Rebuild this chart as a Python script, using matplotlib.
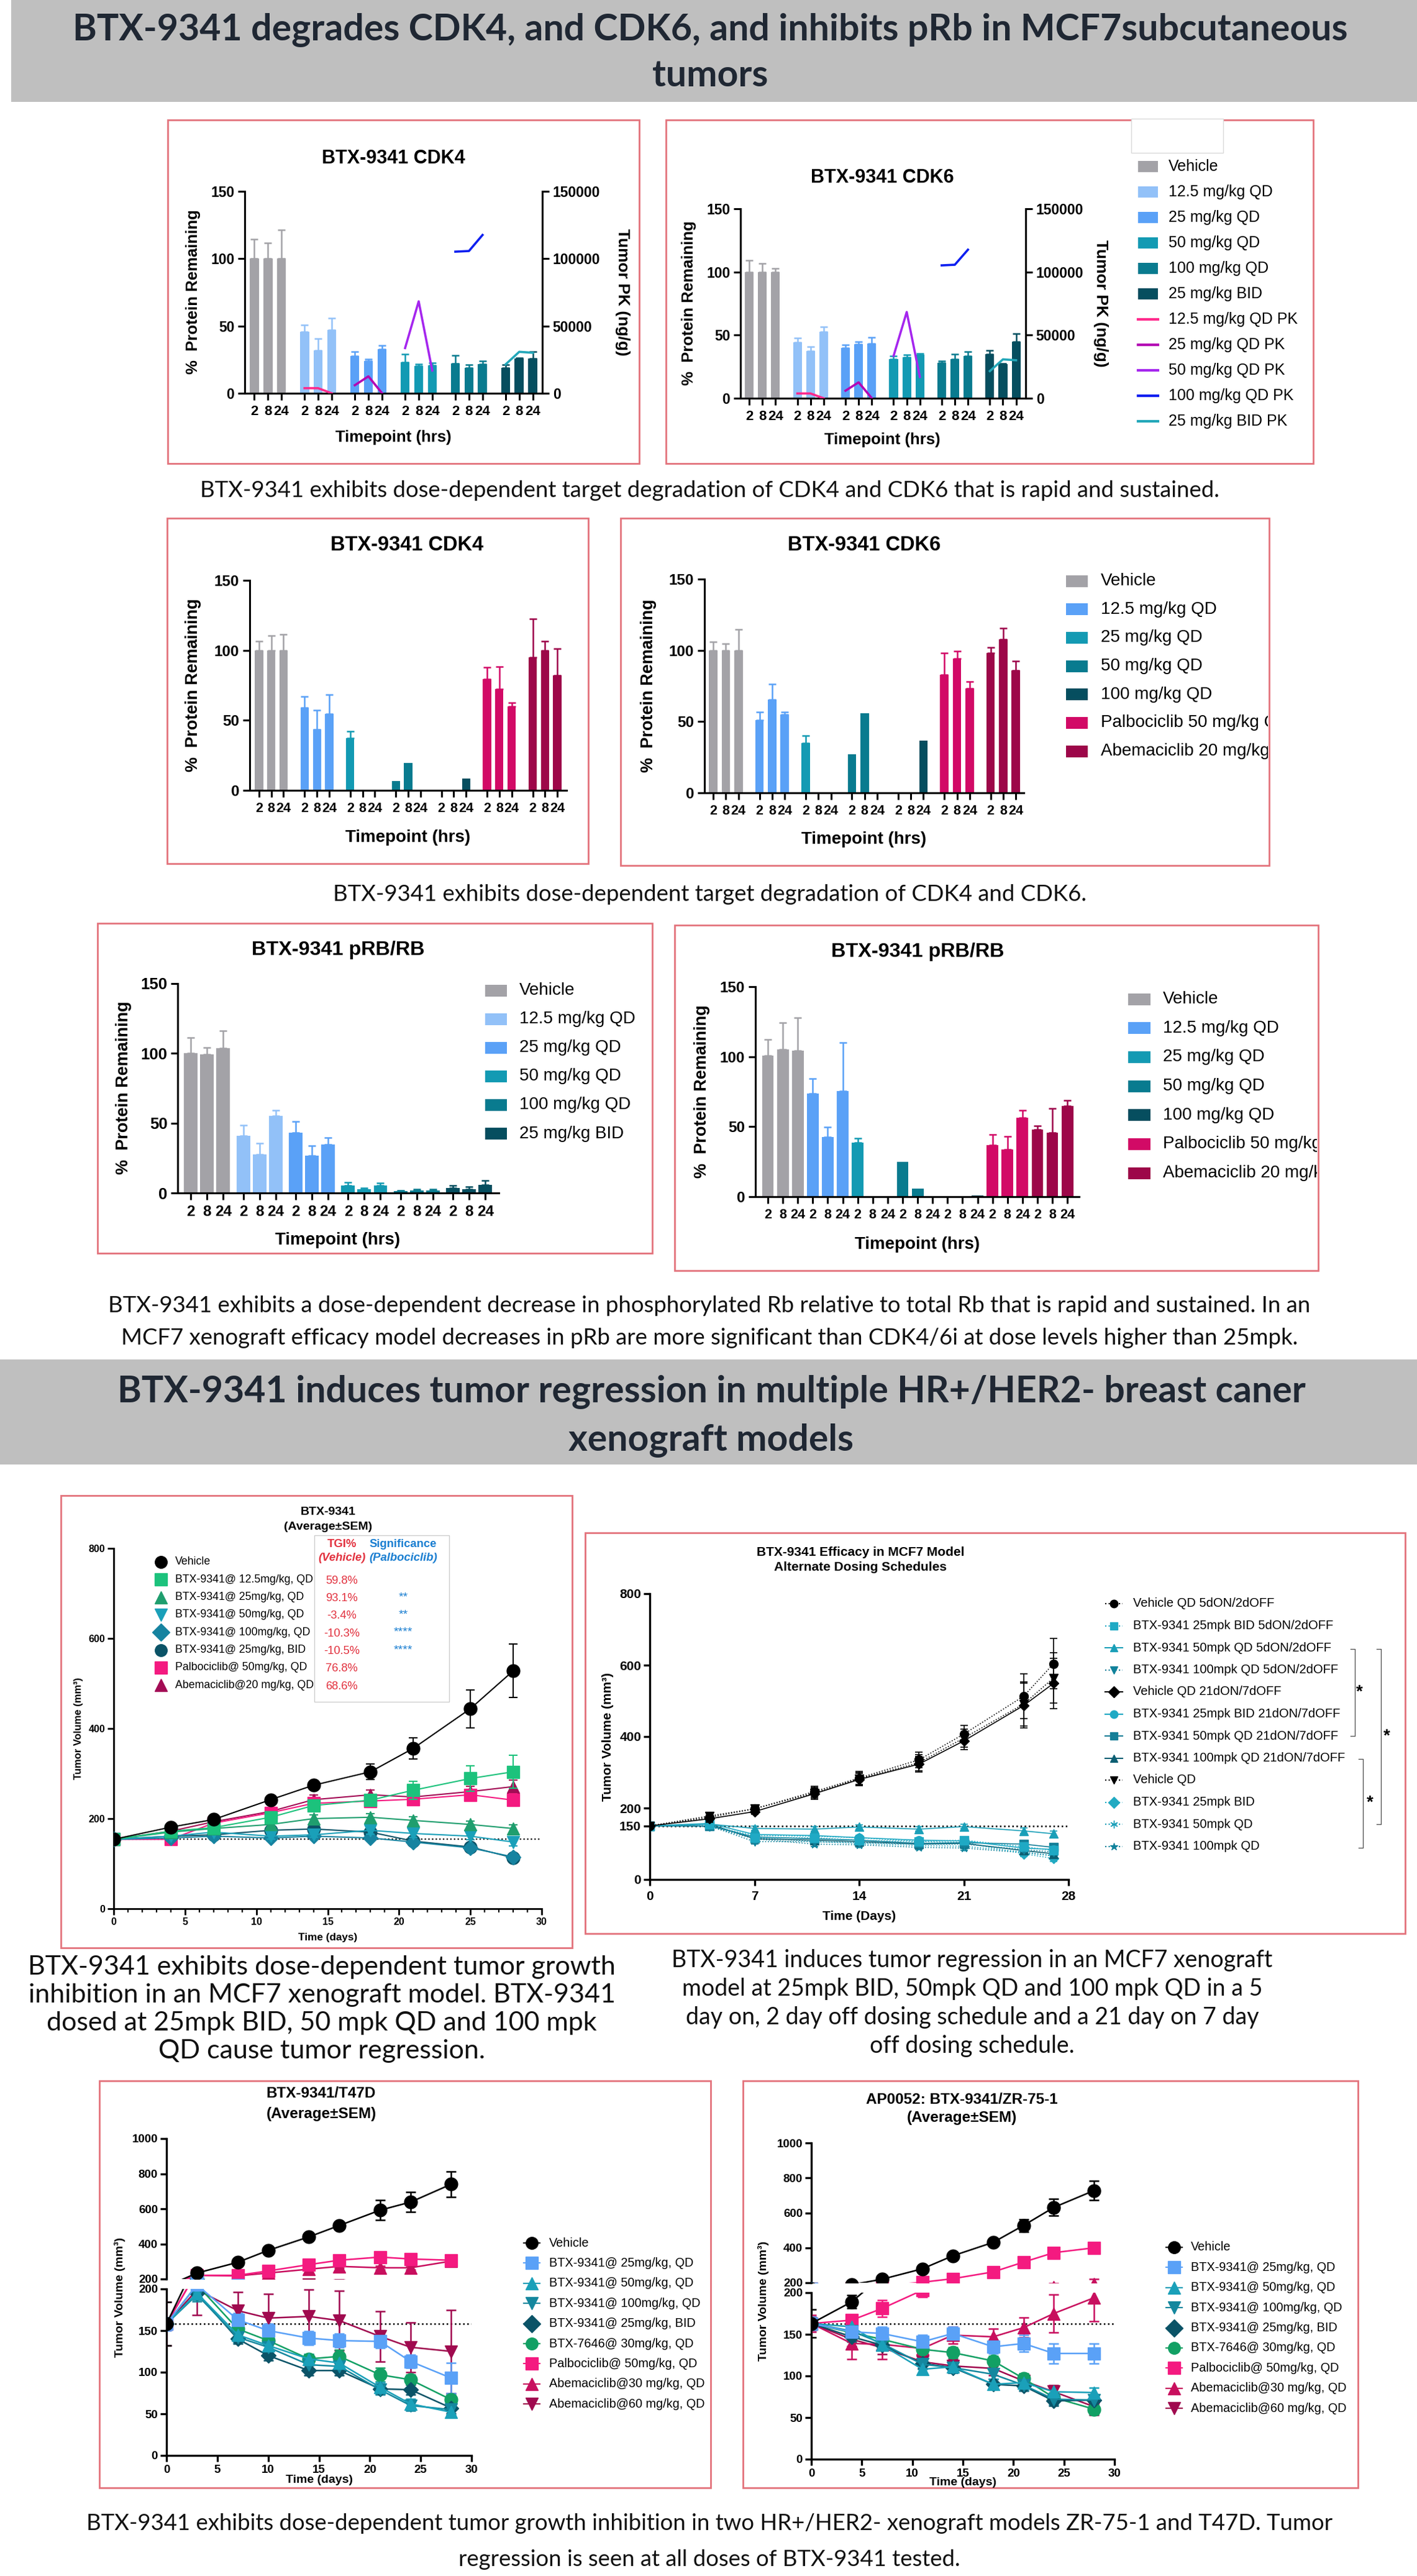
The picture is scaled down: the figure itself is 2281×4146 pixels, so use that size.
import numpy as np
import matplotlib
matplotlib.use('Agg')
import matplotlib.pyplot as plt
from matplotlib.patches import Rectangle
from matplotlib.lines import Line2D
from matplotlib.transforms import Bbox, TransformedBbox

W, H = 2281, 4146
plt.rcParams['font.family'] = ['Liberation Sans', 'DejaVu Sans']

# ---------------- data ----------------
TIMEPOINTS = ['2', '8', '24']

# row 1 : degradation + tumour PK
pk_doses = ['Vehicle', '12.5 mg/kg QD', '25 mg/kg QD', '50 mg/kg QD', '100 mg/kg QD', '25 mg/kg BID']
cdk4_a_mean = [[100, 100, 100], [45.5, 31.9, 46.9], [27.8, 23.9, 32.7],
               [23.1, 20.2, 20.9], [22.2, 18.9, 21.9], [18.9, 25.8, 25.8]]
cdk4_a_err = [[14.6, 11.6, 21.4], [5.4, 8.5, 9.1], [3.0, 1.4, 3.0],
              [5.9, 1.5, 1.7], [6.1, 2.2, 2.0], [2.2, 0.5, 5.0]]
cdk6_a_mean = [[100, 100, 100], [44.1, 37.6, 52.5], [39.9, 42.6, 43.5],
               [30.9, 32.4, 34.2], [27.9, 30.9, 33.6], [34.9, 27.0, 45.0]]
cdk6_a_err = [[9.2, 6.5, 2.9], [3.4, 3.2, 4.0], [2.4, 2.4, 4.5],
              [2.7, 2.1, 1.2], [1.8, 4.2, 3.3], [3.2, 0.5, 6.3]]
pk_labels = ['12.5 mg/kg QD PK', '25 mg/kg QD PK', '50 mg/kg QD PK', '100 mg/kg QD PK', '25 mg/kg BID PK']
pk_125 = [3800, 3800, 0]
pk_25 = [6000, 12600, 100]
pk_50 = [33600, 68300, 16900]
pk_100 = [105200, 105700, 117600]
pk_bid = [21500, 30800, 30100]

# row 2 : degradation vs CDK4/6i
cmp_doses = ['Vehicle', '12.5 mg/kg QD', '25 mg/kg QD', '50 mg/kg QD', '100 mg/kg QD',
             'Palbociclib 50 mg/kg QD', 'Abemaciclib 20 mg/kg QD']
cdk4_b_mean = [[100, 100, 100], [59.2, 43.6, 54.6], [37.2, 0, 0], [6.6, 19.4, 0],
               [0, 0, 8.6], [79.4, 72.2, 60.1], [95.0, 99.9, 82.1]]
cdk4_b_err = [[6.7, 10.7, 11.2], [7.9, 13.5, 13.8], [4.8, 0, 0], [0, 0, 0],
              [0, 0, 0], [8.4, 15.9, 2.6], [27.5, 6.8, 19.1]]
cdk6_b_mean = [[100, 100, 100], [50.9, 65.2, 54.9], [34.7, 0, 0], [27.0, 55.7, 0],
               [0, 0, 36.7], [82.7, 94.3, 73.2], [98.0, 107.8, 85.9]]
cdk6_b_err = [[5.8, 4.7, 14.5], [6.0, 11.1, 2.0], [5.5, 0, 0], [0, 0, 0],
              [0, 0, 0], [15.6, 5.3, 4.7], [4.1, 7.7, 6.5]]

# row 3 : pRB/RB
prb_a_mean = [[100.2, 99.2, 103.6], [40.8, 27.8, 55.2], [43.1, 26.6, 34.8],
              [5.2, 2.5, 5.2], [1.25, 2.0, 2.0], [3.6, 2.8, 5.9]]
prb_a_err = [[11.2, 4.9, 12.5], [7.6, 7.8, 3.9], [8.1, 7.2, 5.0],
             [2.3, 1.1, 2.0], [0.75, 0.8, 0.8], [1.9, 1.6, 3.2]]
prb_b_mean = [[100.8, 105.2, 104.4], [73.5, 42.4, 75.5], [38.8, 0, 0], [24.9, 5.7, 0],
              [0, 0, 1.0], [36.7, 33.9, 56.3], [48.1, 45.7, 64.6]]
prb_b_err = [[11.4, 19.2, 23.6], [10.6, 7.5, 34.7], [2.9, 0, 0], [0, 0, 0],
             [0, 0, 0], [7.8, 9.0, 5.3], [2.5, 17.1, 4.4]]

# row 4 left : MCF7 efficacy
mcf7_days = [0, 4, 7, 11, 14, 18, 21, 25, 28]
mcf7_names = ['Vehicle', 'BTX-9341@ 12.5mg/kg, QD', 'BTX-9341@ 25mg/kg, QD', 'BTX-9341@ 50mg/kg, QD',
              'BTX-9341@ 100mg/kg, QD', 'BTX-9341@ 25mg/kg, BID', 'Palbociclib@ 50mg/kg, QD',
              'Abemaciclib@20 mg/kg, QD']
mcf7_vals = [[154, 181, 198, 242, 274, 304, 356, 444, 528],
             [154, 172, 180, 203, 229, 241, 263, 289, 304],
             [154, 170, 178, 187, 200, 203, 196, 187, 178],
             [154, 161, 170, 161, 164, 174, 167, 161, 148],
             [154, 157, 161, 157, 161, 157, 148, 135, 115],
             [154, 161, 164, 174, 177, 170, 150, 137, 113],
             [154, 154, 190, 213, 234, 239, 243, 253, 241],
             [154, 172, 193, 216, 242, 253, 248, 260, 271]]
mcf7_errs = [[4, 8, 6, 7, 8, 17, 24, 42, 59],
             [4, 6, 6, 8, 10, 12, 20, 28, 37],
             [4, 5, 6, 6, 8, 8, 8, 8, 8],
             [4, 5, 6, 6, 6, 8, 8, 8, 8],
             [4, 4, 4, 5, 5, 6, 6, 6, 6],
             [4, 4, 4, 5, 5, 6, 6, 6, 6],
             [4, 5, 8, 8, 10, 10, 12, 12, 14],
             [4, 5, 8, 8, 10, 10, 12, 12, 14]]
tgi_text = ['59.8%', '93.1%', '-3.4%', '-10.3%', '-10.5%', '76.8%', '68.6%']
sig_text = ['', '**', '**', '****', '****', '', '']

# row 4 right : alternate schedules
alt_days = [0, 4, 7, 11, 14, 18, 21, 25, 27]
alt_names = ['Vehicle QD 5dON/2dOFF', 'BTX-9341 25mpk BID 5dON/2dOFF', 'BTX-9341 50mpk QD 5dON/2dOFF',
             'BTX-9341 100mpk QD 5dON/2dOFF', 'Vehicle QD 21dON/7dOFF', 'BTX-9341 25mpk BID 21dON/7dOFF',
             'BTX-9341 50mpk QD 21dON/7dOFF', 'BTX-9341 100mpk QD 21dON/7dOFF', 'Vehicle QD',
             'BTX-9341 25mpk BID', 'BTX-9341 50mpk QD', 'BTX-9341 100mpk QD']
alt_vals = [[150, 174, 198, 246, 284, 335, 407, 513, 604],
            [150, 154, 117, 117, 110, 106, 110, 92, 81],
            [150, 155, 143, 141, 147, 141, 148, 136, 128],
            [150, 150, 106, 106, 103, 99, 99, 84, 77],
            [150, 170, 190, 240, 280, 323, 388, 487, 549],
            [150, 157, 126, 123, 117, 110, 108, 88, 84],
            [150, 150, 119, 114, 110, 101, 103, 99, 90],
            [150, 155, 114, 110, 106, 99, 101, 81, 72],
            [150, 178, 198, 242, 282, 327, 396, 491, 564],
            [150, 150, 123, 121, 117, 106, 104, 72, 59],
            [150, 150, 117, 106, 101, 95, 93, 77, 67],
            [150, 148, 114, 99, 97, 90, 88, 75, 66]]
alt_veh_err = [5, 10, 8, 15, 18, 22, 25, 62, 70]
alt_trt_err = [5, 6, 6, 6, 6, 6, 6, 8, 8]

# row 5 : T47D and ZR-75-1
xeno_names = ['Vehicle', 'BTX-9341@ 25mg/kg, QD', 'BTX-9341@ 50mg/kg, QD', 'BTX-9341@ 100mg/kg, QD',
              'BTX-9341@ 25mg/kg, BID', 'BTX-7646@ 30mg/kg, QD', 'Palbociclib@ 50mg/kg, QD',
              'Abemaciclib@30 mg/kg, QD', 'Abemaciclib@60 mg/kg, QD']
t47d_days = [0, 3, 7, 10, 14, 17, 21, 24, 28]
t47d_vals = [[158, 234, 295, 363, 440, 505, 592, 638, 740],
             [158, 205, 163, 150, 141, 138, 137, 113, 93],
             [158, 195, 145, 132, 116, 111, 82, 62, 52],
             [158, 193, 142, 130, 109, 107, 79, 60, 55],
             [158, 195, 140, 120, 102, 102, 80, 79, 57],
             [158, 205, 152, 138, 116, 119, 97, 91, 67],
             [158, 221, 221, 246, 282, 307, 325, 314, 307],
             [158, 221, 218, 234, 256, 272, 264, 264, 302],
             [158, 199, 174, 165, 167, 162, 143, 130, 125]]
t47d_errs = [[26, 20, 12, 12, 12, 12, 56, 57, 71],
             [8, 6, 8, 8, 8, 8, 8, 8, 18],
             [6, 8, 6, 6, 6, 6, 6, 6, 6],
             [6, 8, 6, 6, 6, 6, 6, 6, 6],
             [6, 8, 6, 6, 6, 6, 6, 6, 6],
             [6, 8, 6, 6, 6, 8, 8, 6, 6],
             [6, 8, 8, 8, 8, 8, 10, 10, 10],
             [6, 8, 8, 8, 8, 8, 10, 10, 10],
             [26, 30, 22, 29, 32, 36, 30, 30, 50]]
zr_days = [0, 4, 7, 11, 14, 18, 21, 24, 28]
zr_vals = [[163, 189, 220, 280, 354, 431, 528, 631, 728],
           [163, 153, 151, 141, 151, 135, 139, 127, 127],
           [163, 159, 137, 108, 111, 90, 92, 81, 80],
           [163, 154, 139, 114, 110, 102, 89, 72, 71],
           [163, 147, 137, 115, 110, 90, 88, 70, 71],
           [163, 152, 144, 132, 128, 118, 97, 74, 60],
           [163, 167, 181, 203, 223, 262, 318, 372, 400],
           [163, 139, 138, 133, 149, 147, 158, 175, 194],
           [163, 144, 134, 117, 112, 109, 94, 81, 63]]
zr_errs = [[17, 8, 10, 10, 10, 12, 36, 48, 56],
           [8, 8, 8, 8, 8, 8, 10, 12, 12],
           [6, 6, 6, 6, 6, 6, 6, 6, 6],
           [6, 6, 6, 6, 6, 6, 6, 6, 6],
           [6, 6, 6, 6, 6, 6, 6, 6, 6],
           [6, 6, 6, 6, 6, 6, 6, 6, 6],
           [5, 5, 10, 8, 8, 8, 10, 10, 10],
           [10, 19, 18, 10, 10, 10, 12, 23, 28],
           [8, 8, 8, 8, 8, 8, 8, 8, 10]]

# ---------------- colours ----------------
GRAY, LBLUE, BLUE = '#a3a2a7', '#92c1f8', '#5aa1f7'
TEAL, TEAL2, DARK = '#139ab3', '#097b8f', '#064e5f'
PALBO, ABEMA = '#d20a66', '#9d0749'
PK_COLORS = ['#ff2a8c', '#b400b4', '#a526ee', '#0d1ff0', '#22a7b9']
BORDER = '#e3737c'
BANNER = '#bfbfbf'
BANNER_TXT = '#1f2733'

fig = plt.figure(figsize=(W / 100, H / 100), dpi=100)
fig.patch.set_facecolor('white')


def px_axes(x0, y0, x1, y1):
    ax = fig.add_axes([x0 / W, 1 - y1 / H, (x1 - x0) / W, (y1 - y0) / H])
    ax.set_facecolor('none')
    return ax


def ftext(x, y, s, **kw):
    kw.setdefault('ha', 'center')
    kw.setdefault('va', 'center')
    return fig.text(x / W, 1 - y / H, s, **kw)


def rect(x0, y0, x1, y1, **kw):
    r = Rectangle((x0 / W, 1 - y1 / H), (x1 - x0) / W, (y1 - y0) / H, transform=fig.transFigure, **kw)
    fig.add_artist(r)
    return r


def frame(x0, y0, x1, y1):
    rect(x0, y0, x1, y1, fill=False, edgecolor=BORDER, lw=2.0)


def clip_box(x0, y0, x1, y1):
    return TransformedBbox(Bbox([[x0 / W, 1 - y1 / H], [x1 / W, 1 - y0 / H]]), fig.transFigure)


def fline(xs, ys, **kw):
    fig.add_artist(Line2D([x / W for x in xs], [1 - y / H for y in ys],
                          transform=fig.transFigure, **kw))


def style(ax, xfs, yfs, lw=2.2, tl=8, xpad=6, ypad=4):
    ax.spines[['top', 'right']].set_visible(False)
    ax.spines[['left', 'bottom']].set_linewidth(lw)
    ax.tick_params(width=lw, length=tl, direction='out')
    ax.tick_params(axis='x', labelsize=xfs, pad=xpad)
    ax.tick_params(axis='y', labelsize=yfs, pad=ypad)
    for lab in ax.get_xticklabels() + ax.get_yticklabels():
        lab.set_fontweight('bold')


def bar_chart(box, means, errs, colors, stride, width, lpad, rpad, xfs, yfs):
    ax = px_axes(*box)
    ticks = []
    for g, (m, e, c) in enumerate(zip(means, errs, colors)):
        pos = g * stride + np.arange(3)
        m = np.asarray(m, float)
        e = np.asarray(e, float)
        ax.bar(pos, m, width, color=c, zorder=2)
        k = e > 0
        if k.any():
            ax.errorbar(pos[k], m[k], yerr=[np.zeros(k.sum()), e[k]], fmt='none', ecolor=c,
                        elinewidth=1.8, capsize=4, capthick=1.8, zorder=1)
        ticks.extend(pos)
    ax.set_xticks(ticks)
    ax.set_xticklabels(TIMEPOINTS * len(means))
    ax.set_xlim(-lpad, ticks[-1] + rpad)
    ax.set_ylim(0, 150)
    ax.set_yticks([0, 50, 100, 150])
    style(ax, xfs, yfs)
    return ax


def add_pk(ax, stride, yfs):
    ax2 = ax.twinx()
    ax2.set_facecolor('none')
    for k, (vals, c) in enumerate(zip([pk_125, pk_25, pk_50, pk_100, pk_bid], PK_COLORS)):
        pos = (k + 1) * stride + np.arange(3)
        ax2.plot(pos, vals, color=c, lw=2.6, zorder=4)
    ax2.set_ylim(0, 150000)
    ax2.set_yticks([0, 50000, 100000, 150000])
    ax2.spines[['top', 'left', 'bottom']].set_visible(False)
    ax2.spines['right'].set_linewidth(2.2)
    ax2.tick_params(axis='y', width=2.2, length=8, labelsize=yfs, pad=4)
    for lab in ax2.get_yticklabels():
        lab.set_fontweight('bold')


def patch_legend(xc, xt, y0, dy, colors, labels, fs, pw, ph, clip=None):
    for k, (c, lab) in enumerate(zip(colors, labels)):
        y = y0 + k * dy
        rect(xc - pw / 2, y - ph / 2, xc + pw / 2, y + ph / 2, color=c, lw=0)
        t = ftext(xt, y, lab, ha='left', fontsize=fs)
        if clip is not None:
            t.set_clip_box(clip)
            t.set_clip_on(True)


def marker_legend(xc, xt, y0, dy, colors, markers, styles, labels, fs, ms, half):
    for k, (c, mk, ls, lab) in enumerate(zip(colors, markers, styles, labels)):
        y = y0 + k * dy
        fline([xc - half, xc, xc + half], [y, y, y], color=c, lw=1.5 if ls != 'none' else 0,
              ls=ls if ls != 'none' else '-', marker=mk, ms=ms, markevery=[1], mec=c, mfc=c)
        ftext(xt, y, lab, ha='left', fontsize=fs)


def curve(ax, x, y, e, color, marker, ms, ls='-', lw=1.6, cap=4, z=3):
    ax.errorbar(x, y, yerr=e, color=color, ecolor=color, marker=marker, ms=ms, ls=ls, lw=lw,
                elinewidth=lw, capsize=cap, capthick=lw, mec=color, mfc=color, zorder=z)


# ---------------- banners and captions ----------------
ban_kw = dict(fontsize=42.5, fontweight='bold', family=['Lato', 'DejaVu Sans'], color=BANNER_TXT)
rect(18, 0, 2281, 164, color=BANNER, lw=0)
ftext(1143, 48, 'BTX-9341 degrades CDK4, and CDK6, and inhibits pRb in MCF7subcutaneous', **ban_kw)
ftext(1143, 122, 'tumors', **ban_kw)
rect(0, 2188, 2281, 2357, color=BANNER, lw=0)
ftext(1145, 2241, 'BTX-9341 induces tumor regression in multiple HR+/HER2- breast caner', **ban_kw)
ftext(1145, 2318, 'xenograft models', **ban_kw)

cap_kw = dict(fontsize=26.3, family=['Lato', 'DejaVu Sans'], color='#111111')
ftext(1142, 790, 'BTX-9341 exhibits dose-dependent target degradation of CDK4 and CDK6 that is rapid and sustained.', **cap_kw)
ftext(1142, 1440, 'BTX-9341 exhibits dose-dependent target degradation of CDK4 and CDK6.', **cap_kw)
ftext(1142, 2101, 'BTX-9341 exhibits a dose-dependent decrease in phosphorylated Rb relative to total Rb that is rapid and sustained. In an', **cap_kw)
ftext(1142, 2154, 'MCF7 xenograft efficacy model decreases in pRb are more significant than CDK4/6i at dose levels higher than 25mpk.', **cap_kw)
for k, s in enumerate(['BTX-9341 exhibits dose-dependent tumor growth',
                       'inhibition in an MCF7 xenograft model. BTX-9341',
                       'dosed at 25mpk BID, 50 mpk QD and 100 mpk',
                       'QD cause tumor regression.']):
    ftext(518, 3166 + 45 * k, s, fontsize=31, family=['Lato', 'DejaVu Sans'], color='#111111')
for k, s in enumerate(['BTX-9341 induces tumor regression in an MCF7 xenograft',
                       'model at 25mpk BID, 50mpk QD and 100 mpk QD in a 5',
                       'day on, 2 day off dosing schedule and a 21 day on 7 day',
                       'off dosing schedule.']):
    ftext(1565, 3155 + 46 * k, s, fontsize=27, family=['Lato', 'DejaVu Sans'], color='#111111')
ftext(1142, 4062, 'BTX-9341 exhibits dose-dependent tumor growth inhibition in two HR+/HER2- xenograft models ZR-75-1 and T47D. Tumor', **cap_kw)
ftext(1142, 4119, 'regression is seen at all doses of BTX-9341 tested.', **cap_kw)

# ---------------- row 1 ----------------
row1_colors = [GRAY, LBLUE, BLUE, TEAL, TEAL2, DARK]
frame(270, 193, 1029, 746)
ax = bar_chart((394, 308, 873, 633), cdk4_a_mean, cdk4_a_err, row1_colors, 3.7, 0.67, 0.7, 0.7, 16, 16.5)
add_pk(ax, 3.7, 16.5)
ftext(633, 255, 'BTX-9341 CDK4', fontsize=22, fontweight='bold')
ftext(633, 704, 'Timepoint (hrs)', fontsize=18.5, fontweight='bold')
ftext(311, 470, '%  Protein Remaining', fontsize=18.5, fontweight='bold', rotation=90)
ftext(1002, 470, 'Tumor PK (ng/g)', fontsize=19, fontweight='bold', rotation=270)

frame(1072, 193, 2114, 746)
rect(1821, 191, 1969, 246, facecolor='white', edgecolor='#d9d9d9', lw=1.0)
ax = bar_chart((1192, 336, 1651, 641), cdk6_a_mean, cdk6_a_err, row1_colors, 3.67, 0.67, 0.67, 0.73, 16, 16.5)
add_pk(ax, 3.67, 16.5)
ftext(1420, 286, 'BTX-9341 CDK6', fontsize=22, fontweight='bold')
ftext(1420, 708, 'Timepoint (hrs)', fontsize=18.5, fontweight='bold')
ftext(1109, 488, '%  Protein Remaining', fontsize=18.5, fontweight='bold', rotation=90)
ftext(1772, 488, 'Tumor PK (ng/g)', fontsize=19, fontweight='bold', rotation=270)
patch_legend(1848, 1881, 268, 41, row1_colors, pk_doses, 18, 32, 17)
for k, (c, lab) in enumerate(zip(PK_COLORS, pk_labels)):
    y = 268 + (6 + k) * 41
    fline([1832, 1864], [y, y], color=c, lw=3)
    ftext(1881, y, lab, ha='left', fontsize=18)

# ---------------- row 2 ----------------
row2_colors = [GRAY, BLUE, TEAL, TEAL2, DARK, PALBO, ABEMA]
frame(269, 834, 947, 1390)
bar_chart((402, 934, 912, 1272), cdk4_b_mean, cdk4_b_err, row2_colors, 3.72, 0.67, 0.76, 0.76, 15.5, 17.5)
ftext(655, 878, 'BTX-9341 CDK4', fontsize=23.5, fontweight='bold')
ftext(657, 1348, 'Timepoint (hrs)', fontsize=20, fontweight='bold')
ftext(311, 1103, '%  Protein Remaining', fontsize=19.5, fontweight='bold', rotation=90)

frame(999, 834, 2043, 1393)
bar_chart((1134, 932, 1648, 1276), cdk6_b_mean, cdk6_b_err, row2_colors, 3.67, 0.67, 0.7, 0.63, 15.5, 17.5)
ftext(1391, 878, 'BTX-9341 CDK6', fontsize=23.5, fontweight='bold')
ftext(1391, 1351, 'Timepoint (hrs)', fontsize=20, fontweight='bold')
ftext(1044, 1104, '%  Protein Remaining', fontsize=19.5, fontweight='bold', rotation=90)
patch_legend(1733, 1772, 935, 45.7, row2_colors, cmp_doses, 20, 35, 19, clip=clip_box(999, 834, 2041, 1393))

# ---------------- row 3 ----------------
frame(157, 1486, 1050, 2017)
bar_chart((286, 1583, 803, 1920), prb_a_mean, prb_a_err, row1_colors, 3.24, 0.84, 0.82, 0.84, 17.5, 18.5)
ftext(544, 1529, 'BTX-9341 pRB/RB', fontsize=23.3, fontweight='bold')
ftext(544, 1996, 'Timepoint (hrs)', fontsize=20, fontweight='bold')
ftext(199, 1751, '%  Protein Remaining', fontsize=19.5, fontweight='bold', rotation=90)
patch_legend(798, 836, 1594, 46.1, row1_colors, pk_doses, 20, 35, 19)

frame(1086, 1489, 2122, 2045)
bar_chart((1216, 1588, 1737, 1926), prb_b_mean, prb_b_err, row2_colors, 3.0, 0.78, 0.83, 0.78, 15.5, 17.5)
ftext(1477, 1532, 'BTX-9341 pRB/RB', fontsize=23.3, fontweight='bold')
ftext(1477, 2003, 'Timepoint (hrs)', fontsize=20, fontweight='bold')
ftext(1130, 1757, '%  Protein Remaining', fontsize=19.5, fontweight='bold', rotation=90)
patch_legend(1834, 1872, 1608, 46.7, row2_colors, cmp_doses, 20, 36, 19, clip=clip_box(1086, 1489, 2120, 2045))

# ---------------- row 4 left ----------------
mcf7_colors = ['#000000', '#1cc27c', '#1f9e6e', '#1aa0b9', '#1683a0', '#0b5367', '#f41a80', '#a30c55']
mcf7_markers = ['o', 's', '^', 'v', 'D', 'o', 's', '^']
frame(98, 2407, 921, 3135)
ax = px_axes(183, 2492, 872, 3072)
ax.axhline(154, color='k', ls=':', lw=1.6, zorder=1)
for k in range(len(mcf7_vals) - 1, -1, -1):
    ms = 12 if mcf7_markers[k] == 'D' else 15
    curve(ax, mcf7_days, mcf7_vals[k], mcf7_errs[k], mcf7_colors[k], mcf7_markers[k], ms,
          lw=1.5, cap=5, z=10 - k if k else 12)
ax.set_xlim(0, 30)
ax.set_ylim(0, 800)
ax.set_xticks(range(0, 31, 5))
ax.set_xticks(range(0, 31), minor=True)
ax.set_yticks([0, 200, 400, 600, 800])
style(ax, 11.5, 11.5, lw=2.0, tl=7, xpad=3, ypad=3)
ax.tick_params(axis='x', which='minor', length=4, width=1.6)
ftext(528, 2434, 'BTX-9341', fontsize=14, fontweight='bold')
ftext(528, 2458, '(Average±SEM)', fontsize=14, fontweight='bold')
ftext(528, 3118, 'Time (days)', fontsize=12.3, fontweight='bold')
ftext(127, 2782, 'Tumor Volume (mm³)', fontsize=12, fontweight='bold', rotation=90)
marker_legend(259, 282, 2514, 28.3, mcf7_colors, mcf7_markers, ['none'] * 8, mcf7_names, 12.8, 14, 10)
rect(506, 2471, 723, 2739, fill=False, edgecolor='#cccccc', lw=1.0)
ftext(550, 2486, 'TGI%', fontsize=13.3, fontweight='bold', color='#e2323f')
ftext(550, 2508, '(Vehicle)', fontsize=13.3, fontweight='bold', style='italic', color='#e2323f')
ftext(649, 2486, 'Significance', fontsize=13.3, fontweight='bold', color='#1b7fd1')
ftext(649, 2508, '(Palbociclib)', fontsize=13.3, fontweight='bold', style='italic', color='#1b7fd1')
for k, (t, s) in enumerate(zip(tgi_text, sig_text)):
    y = 2514 + 28.3 * (k + 1)
    ftext(550, y + 2, t, fontsize=13.2, color='#e2323f')
    if s:
        ftext(649, y, s, fontsize=14, color='#1b7fd1')

# ---------------- row 4 right ----------------
alt_colors = ['#000000', '#1fa9c4', '#1a9fb8', '#11829b', '#000000', '#1fa9c4', '#157f98', '#0d5f73',
              '#000000', '#22aac2', '#1a9fb8', '#11829b']
alt_markers = ['o', 's', '^', 'v', 'D', 'o', 's', '^', 'v', 'D', (6, 2, 0), '*']
alt_styles = [':', ':', '-', ':', '-', '-', '-', '-', ':', ':', ':', ':']
frame(942, 2467, 2262, 3112)
ax = px_axes(1046, 2565, 1720, 3025)
ax.axhline(150, color='k', ls=':', lw=1.8, zorder=1)
for k in range(len(alt_vals) - 1, -1, -1):
    err = alt_veh_err if alt_colors[k] == '#000000' else alt_trt_err
    ms = 8 if alt_markers[k] == 'D' else 10
    curve(ax, alt_days, alt_vals[k], err, alt_colors[k], alt_markers[k], ms, ls=alt_styles[k],
          lw=1.2, cap=4, z=3 + (alt_colors[k] == '#000000'))
ax.set_xlim(0, 28)
ax.set_ylim(0, 800)
ax.set_xticks([0, 7, 14, 21, 28])
ax.set_yticks([0, 150, 200, 400, 600, 800])
style(ax, 15, 15, lw=2.4, tl=7, xpad=6, ypad=3)
ftext(1385, 2498, 'BTX-9341 Efficacy in MCF7 Model', fontsize=15, fontweight='bold')
ftext(1385, 2523, 'Alternate Dosing Schedules', fontsize=15, fontweight='bold')
ftext(1383, 3084, 'Time (Days)', fontsize=15, fontweight='bold')
ftext(978, 2795, 'Tumor Volume (mm³)', fontsize=15, fontweight='bold', rotation=90)
marker_legend(1793, 1824, 2581, 35.5, alt_colors, alt_markers, alt_styles, alt_names, 14.5, 9, 14)
for (xb, ya, yb, xs, ys) in [(2181, 2654, 2794, 2188, 2718), (2223, 2654, 2936, 2232, 2789),
                             (2194, 2831, 2974, 2205, 2896)]:
    fline([xb - 7, xb, xb, xb - 7], [ya, ya, yb, yb], color='#555555', lw=1.0)
    ftext(xs, ys + 6, '*', fontsize=20, fontweight='bold')

# ---------------- row 5 ----------------
xeno_colors = ['#000000', '#5aa1f7', '#1aa0b9', '#14879e', '#0b5367', '#12a064', '#f41a80', '#c80f5e', '#a00a4f']
xeno_markers = ['o', 's', '^', 'v', 'D', 'o', 's', '^', 'v']


def broken_panel(x0, x1, ytop, ymid1, ymid2, ybot, days, vals, errs, base):
    up = px_axes(x0, ytop, x1, ymid1)
    lo = px_axes(x0, ymid2, x1, ybot)
    lo.axhline(base, color='k', ls=':', lw=1.8, zorder=1)
    for a in (up, lo):
        for k in range(len(vals) - 1, -1, -1):
            ms = 12 if xeno_markers[k] == 'D' else 15
            curve(a, days, vals[k], errs[k], xeno_colors[k], xeno_markers[k], ms, lw=1.8, cap=6,
                  z=12 if k == 0 else 3)
        a.set_xlim(0, 30)
    up.set_ylim(200, 1000)
    up.set_yticks([200, 400, 600, 800, 1000])
    up.set_xticks([])
    lo.set_ylim(0, 200)
    lo.set_yticks([0, 50, 100, 150, 200])
    lo.set_xticks(range(0, 31, 5))
    style(lo, 13.5, 13.5, lw=2.4, tl=7, xpad=4, ypad=3)
    style(up, 13.5, 13.5, lw=2.4, tl=7, xpad=4, ypad=3)
    up.spines['bottom'].set_visible(False)


frame(160, 3349, 1144, 4004)
broken_panel(268, 759, 3442, 3668, 3684, 3952, t47d_days, t47d_vals, t47d_errs, 158)
ftext(517, 3370, 'BTX-9341/T47D', fontsize=17.5, fontweight='bold')
ftext(517, 3402, '(Average±SEM)', fontsize=17.5, fontweight='bold')
ftext(514, 3992, 'Time (days)', fontsize=14, fontweight='bold')
ftext(193, 3697, 'Tumor Volume (mm³)', fontsize=14, fontweight='bold', rotation=90)
marker_legend(856, 884, 3610, 32.4, xeno_colors, xeno_markers, ['-'] * 9, xeno_names, 14.3, 14, 13)

frame(1196, 3349, 2186, 4004)
broken_panel(1306, 1794, 3449, 3674, 3690, 3958, zr_days, zr_vals, zr_errs, 163)
ftext(1548, 3380, 'AP0052: BTX-9341/ZR-75-1', fontsize=17.5, fontweight='bold')
ftext(1548, 3408, '(Average±SEM)', fontsize=17.5, fontweight='bold')
ftext(1550, 3996, 'Time (days)', fontsize=14, fontweight='bold')
ftext(1229, 3703, 'Tumor Volume (mm³)', fontsize=14, fontweight='bold', rotation=90)
marker_legend(1890, 1917, 3617, 32.4, xeno_colors, xeno_markers, ['-'] * 9, xeno_names, 14.3, 14, 13)

fig.savefig('out.png', dpi=100)
